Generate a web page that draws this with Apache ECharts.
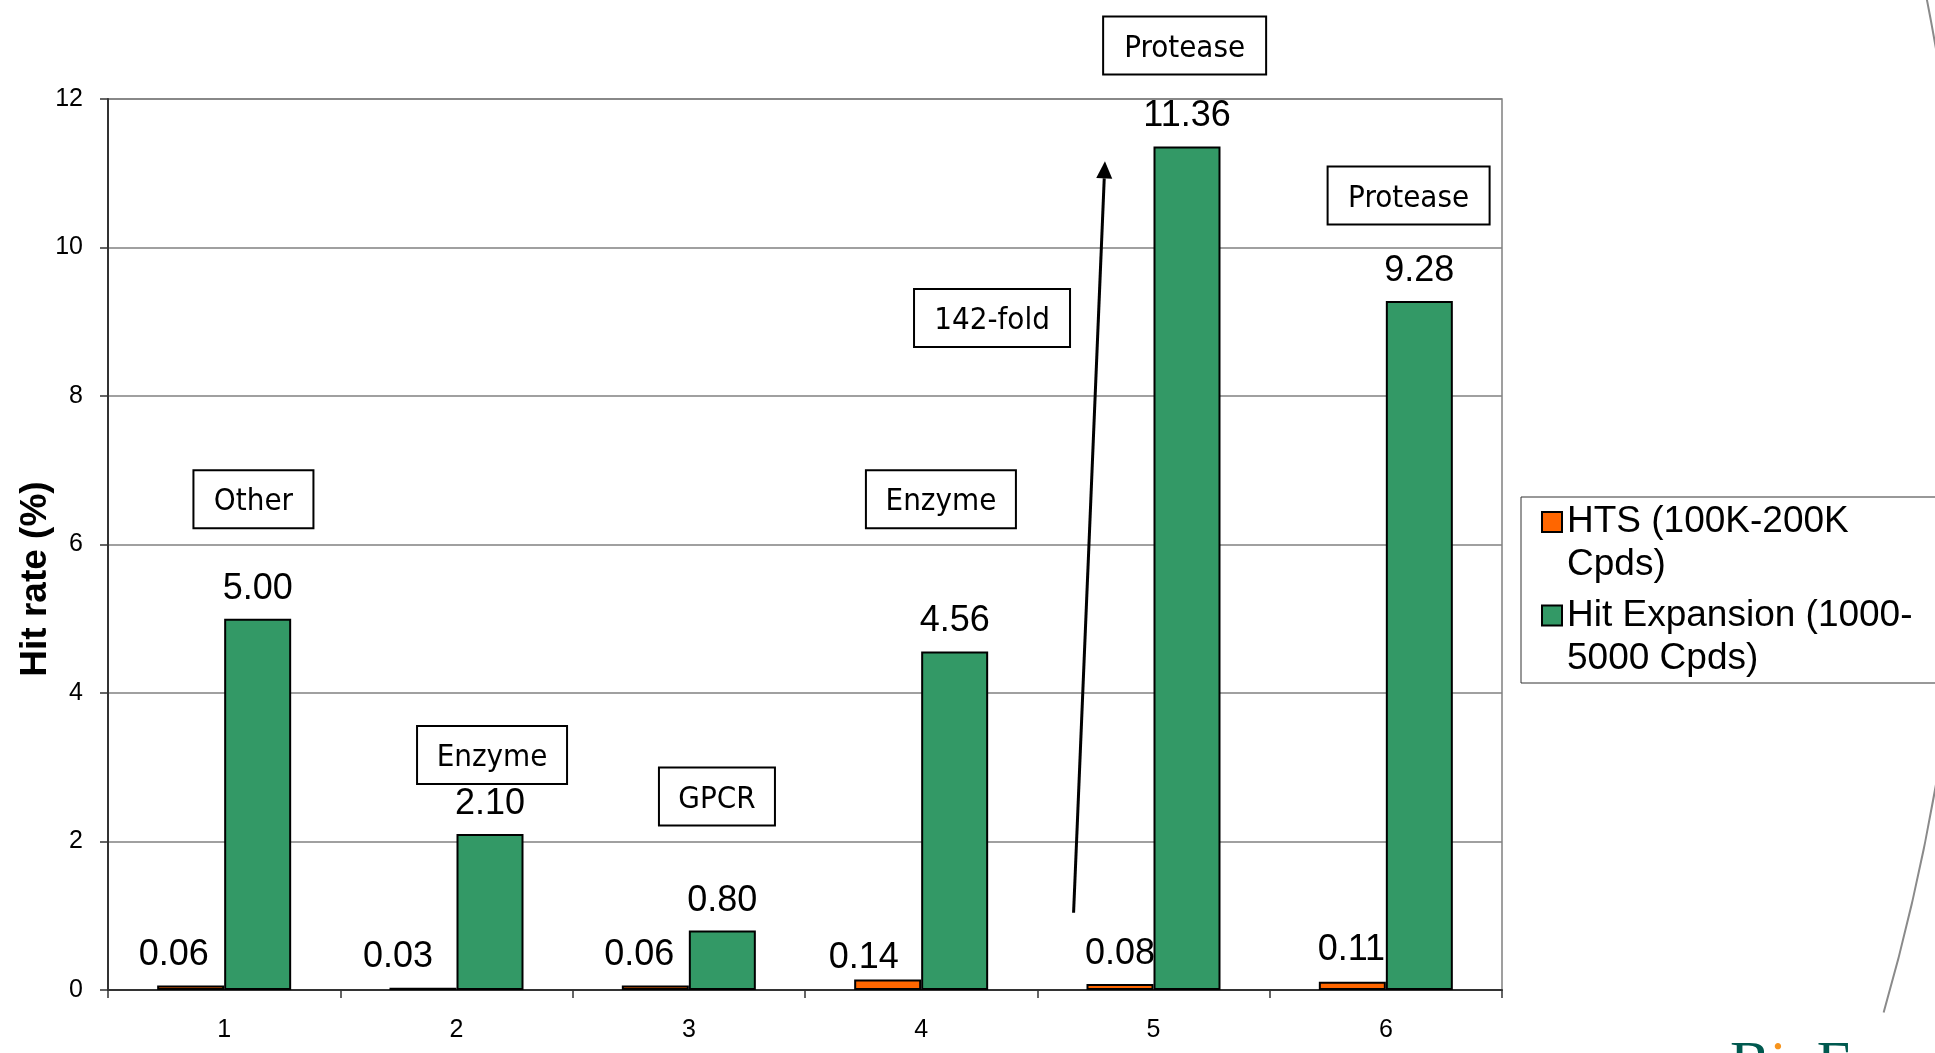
<!DOCTYPE html>
<html>
<head>
<meta charset="utf-8">
<title>Hit rate: HTS vs Hit Expansion</title>
<script src="https://cdn.jsdelivr.net/npm/echarts@6/dist/echarts.min.js"></script>
<style>
  html, body { margin: 0; padding: 0; background: #ffffff; }
  #chart { width: 1935px; height: 1053px; }
</style>
</head>
<body>
<div id="chart"></div>
<script>
// ---- data ----
const categories = ['1', '2', '3', '4', '5', '6'];
const htsRates = [0.06, 0.03, 0.06, 0.14, 0.08, 0.11];
const expansionRates = [5.00, 2.10, 0.80, 4.56, 11.36, 9.28];
const yTickValues = [0, 2, 4, 6, 8, 10, 12];
const seriesNames = ['HTS (100K-200K Cpds)', 'Hit Expansion (1000-5000 Cpds)'];
const legendText = ['HTS (100K-200K\nCpds)', 'Hit Expansion (1000-\n5000 Cpds)'];
const targetClasses = ['Other', 'Enzyme', 'GPCR', 'Enzyme', 'Protease', 'Protease'];
const foldNote = '142-fold';
const yAxisTitle = 'Hit rate (%)';

// ---- layout (not data) ----
const SANS = '"Liberation Sans", Arial, Helvetica, sans-serif';
const TAG_FONT = '31px "DejaVu Sans Condensed", "DejaVu Sans", Tahoma, sans-serif';
const LEGEND_LINE = 43;
// hand-placed nudges for the small HTS value labels [dx, dy]
const htsLabelNudge = [[-17, 0], [-25, -1], [-16, 0], [-24, 8], [0, 0], [-1, -2]];
// tag boxes: [category units from left edge, value, box width]
const tagPlacement = [[0.626, 6.61, 120], [1.653, 3.165, 150], [2.621, 2.606, 116],
                      [3.585, 6.61, 150], [4.634, 12.72, 163], [5.598, 10.70, 162]];
const foldPlacement = [3.805, 9.05, 156];
const arrowFrom = [4.156, 1.04];
const arrowTo = [4.291, 11.16];

const chart = echarts.init(document.getElementById('chart'), null, { renderer: 'canvas' });

const barLabel = {
  show: true,
  position: 'top',
  distance: 12,
  color: '#000',
  fontFamily: SANS,
  fontSize: 36,
  formatter: p => Number(p.value).toFixed(2)
};

const option = {
  backgroundColor: '#ffffff',
  animation: false,
  textStyle: { fontFamily: SANS },
  grid: {
    left: 108, top: 99, width: 1394, height: 891,
    show: true, borderColor: '#808080', borderWidth: 1.5, backgroundColor: 'transparent'
  },
  legend: {
    orient: 'vertical',
    left: 1521, top: 497,
    // each entry carries a blank leading line so the swatch sits beside the first text line
    padding: [-39.5, 24, 3, 20],
    itemGap: 93.5 - 3 * LEGEND_LINE,
    itemWidth: 20, itemHeight: 20,
    icon: 'rect',
    borderColor: '#333', borderWidth: 1,
    backgroundColor: '#fff',
    selectedMode: false,
    formatter: name => '\n' + legendText[seriesNames.indexOf(name)],
    textStyle: { color: '#000', fontFamily: SANS, fontSize: 37, lineHeight: LEGEND_LINE }
  },
  xAxis: {
    type: 'category',
    data: categories,
    axisLine: { show: true, lineStyle: { color: '#333', width: 2 } },
    axisTick: { show: true, length: 8, lineStyle: { color: '#333', width: 1.5 } },
    axisLabel: { color: '#000', fontSize: 25, margin: 28, fontFamily: SANS },
    splitLine: { show: false }
  },
  yAxis: {
    type: 'value',
    min: yTickValues[0], max: yTickValues[yTickValues.length - 1], interval: 2,
    name: yAxisTitle,
    nameLocation: 'middle',
    nameRotate: 90,
    nameGap: 54,
    nameMoveOverlap: false,
    nameTextStyle: { color: '#000', fontSize: 37, fontWeight: 'bold', fontFamily: SANS, padding: [0, 69, 0, 0] },
    axisLine: { show: true, lineStyle: { color: '#333', width: 2 } },
    axisTick: { show: true, length: 8, lineStyle: { color: '#333', width: 1.5 } },
    axisLabel: { color: '#000', fontSize: 25, margin: 25, fontFamily: SANS },
    splitLine: { show: true, lineStyle: { color: '#808080', width: 1.5 } }
  },
  series: [
    {
      name: seriesNames[0],
      type: 'bar',
      barWidth: 67,
      barGap: '0%',
      itemStyle: { color: '#FF6600', borderColor: '#000', borderWidth: 2 },
      label: barLabel,
      data: htsRates.map((v, i) => ({ value: v, label: { offset: htsLabelNudge[i] } }))
    },
    {
      name: seriesNames[1],
      type: 'bar',
      barWidth: 67,
      barGap: '0%',
      itemStyle: { color: '#339966', borderColor: '#000', borderWidth: 2 },
      label: barLabel,
      data: expansionRates
    }
  ]
};

chart.setOption(option);

// annotation overlay placed through the chart's own axes
const c0 = chart.convertToPixel({ seriesIndex: 0 }, [0, 0]);
const c1 = chart.convertToPixel({ seriesIndex: 0 }, [1, 0]);
const band = c1[0] - c0[0];
const centre0 = chart.convertToPixel({ xAxisIndex: 0 }, 0);
function toPx(u, v) {
  return [centre0 + (u - 0.5) * band, chart.convertToPixel({ yAxisIndex: 0 }, v)];
}

const overlay = [];
function addTag(text, place) {
  const [x, y] = toPx(place[0], place[1]);
  const w = place[2], h = 58;
  overlay.push({
    type: 'rect', z: 20,
    shape: { x: x - w / 2, y: y - h / 2, width: w, height: h },
    style: { fill: '#fff', stroke: '#000', lineWidth: 2 }
  });
  overlay.push({
    type: 'text', z: 21, x: x, y: y + 3,
    style: { text: text, align: 'center', verticalAlign: 'middle', font: TAG_FONT, fill: '#000' }
  });
}
targetClasses.forEach((t, i) => addTag(t, tagPlacement[i]));
addTag(foldNote, foldPlacement);

// fold-change arrow
const a = toPx(arrowFrom[0], arrowFrom[1]);
const b = toPx(arrowTo[0], arrowTo[1]);
const dx = b[0] - a[0], dy = b[1] - a[1];
const len = Math.hypot(dx, dy);
const ux = dx / len, uy = dy / len;
const headL = 17, headW = 8;
const base = [b[0] - ux * headL, b[1] - uy * headL];
overlay.push({
  type: 'line', z: 20,
  shape: { x1: a[0], y1: a[1], x2: base[0], y2: base[1] },
  style: { stroke: '#000', lineWidth: 3 }
});
overlay.push({
  type: 'polygon', z: 20,
  shape: { points: [b, [base[0] - uy * headW, base[1] + ux * headW], [base[0] + uy * headW, base[1] - ux * headW]] },
  style: { fill: '#000' }
});

// slide frame: sweeping grey arc and the corner logotype
overlay.push({
  type: 'arc', z: 1, silent: true,
  shape: { cx: -192, cy: 416.5, r: 2159.5, startAngle: -0.1942, endAngle: 0.2796, clockwise: true },
  style: { stroke: '#8a8a8a', lineWidth: 2, fill: null }
});
overlay.push({
  type: 'text', z: 1, silent: true, x: 1730, y: 1036,
  style: {
    text: '{t|B}{o|i}{t|oFocus}',
    verticalAlign: 'top',
    rich: {
      t: { fontFamily: '"Liberation Serif", "DejaVu Serif", serif', fontSize: 60, fill: '#00594f', color: '#00594f' },
      o: { fontFamily: '"Liberation Serif", "DejaVu Serif", serif', fontSize: 60, fill: '#f7941d', color: '#f7941d' }
    }
  }
});

chart.setOption({ graphic: overlay });
</script>
</body>
</html>
